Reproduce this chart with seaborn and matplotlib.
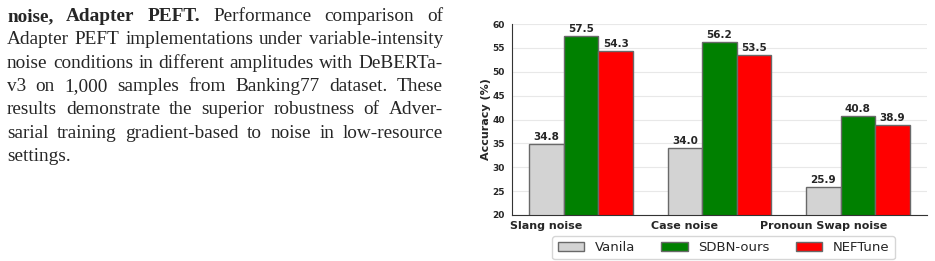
import matplotlib
matplotlib.use("Agg")
import matplotlib.pyplot as plt
import seaborn as sns
import pandas as pd

# data
categories = ["Slang noise", "Case noise", "Pronoun Swap noise"]
methods = ["Vanila", "SDBN-ours", "NEFTune"]
vanila = [34.8, 34.0, 25.9]
sdbn = [57.5, 56.2, 40.8]
neftune = [54.3, 53.5, 38.9]
colors = ["lightgray", "green", "red"]

# caption text, one list per printed line: (word, bold)
caption_lines = [
    [("noise,", True), ("Adapter", True), ("PEFT.", True),
     ("Performance", False), ("comparison", False), ("of", False)],
    [(w, False) for w in "Adapter PEFT implementations under variable-intensity".split()],
    [(w, False) for w in "noise conditions in different amplitudes with DeBERTa-".split()],
    [(w, False) for w in "v3 on 1,000 samples from Banking77 dataset. These".split()],
    [(w, False) for w in "results demonstrate the superior robustness of Adver-".split()],
    [(w, False) for w in "sarial training gradient-based to noise in low-resource".split()],
    [(w, False) for w in "settings.".split()],
]

df = pd.DataFrame({
    "category": categories * 3,
    "method": [m for m in methods for _ in categories],
    "acc": vanila + sdbn + neftune,
})

W, H = 935, 261
fig = plt.figure(figsize=(W / 100, H / 100), dpi=100)
sns.set_style("white")

ax = fig.add_axes([512 / W, 1 - 215 / H, 415 / W, (215 - 24) / H])
sns.barplot(data=df, x="category", y="acc", hue="method", palette=colors,
            saturation=1, width=0.75, edgecolor="dimgray", linewidth=1,
            ax=ax, legend=True)

for c in ax.containers:
    ax.bar_label(c, fmt="%.1f", fontsize=7.5, fontweight="bold", padding=1.5)

ax.set_ylim(20, 60)
ax.set_xticks([i - 0.25 for i in range(len(categories))])
ax.set_xticklabels(categories, fontsize=8, fontweight="bold")
ax.tick_params(axis="y", labelsize=6.5, length=3, width=0.8, pad=2)
ax.tick_params(axis="x", length=3, width=0.8, pad=1)
for lab in ax.get_yticklabels():
    lab.set_fontweight("bold")
ax.set_xlabel("")
ax.set_ylabel("Accuracy (%)", fontsize=8, fontweight="bold", labelpad=1)
ax.yaxis.grid(True, color="#e8e8e8", linewidth=0.8)
ax.set_axisbelow(True)
sns.despine(ax=ax)
for s in ["left", "bottom"]:
    ax.spines[s].set_color("#333333")
    ax.spines[s].set_linewidth(0.8)

ax.legend(loc="upper center", bbox_to_anchor=(0.51, -0.075), ncol=3,
          fontsize=9.5, frameon=True, handlelength=2.0, columnspacing=2.0,
          borderpad=0.4)

# justified caption on the left
fig.canvas.draw()
renderer = fig.canvas.get_renderer()
x0, x1 = 7, 443
base0, step = 21, 23.3
fs = 13.9
for k, line in enumerate(caption_lines):
    y = 1 - (base0 + k * step) / H
    texts = []
    for word, bold in line:
        t = fig.text(0, y, word, fontsize=fs, family="Liberation Serif",
                     fontweight="bold" if bold else "normal", va="baseline")
        texts.append(t)
    widths = [t.get_window_extent(renderer).width for t in texts]
    last = k == len(caption_lines) - 1
    if last or len(texts) == 1:
        gap = 4.5
    else:
        gap = (x1 - x0 - sum(widths)) / (len(texts) - 1)
    x = x0
    for t, w in zip(texts, widths):
        t.set_x(x / W)
        x += w + gap

fig.savefig("out.png", dpi=100)
